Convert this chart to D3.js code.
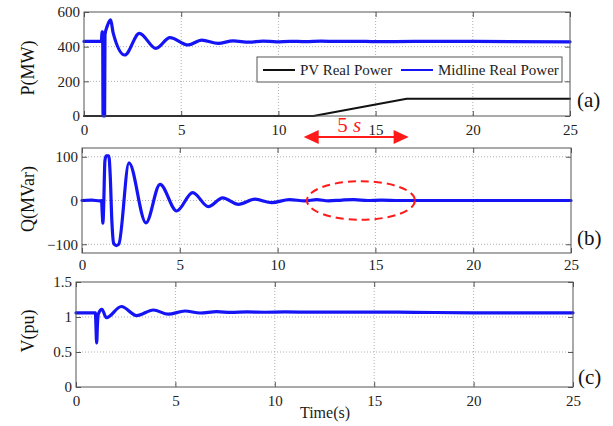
<!DOCTYPE html>
<html>
<head>
<meta charset="utf-8">
<script src="https://cdn.jsdelivr.net/npm/d3@7/dist/d3.min.js"></script>
<style>
  html, body { margin: 0; padding: 0; background: #fff; }
  svg, svg text { font-family: "Liberation Serif", "Times New Roman", serif !important; }
</style>
</head>
<body>
<svg id="chart" width="613" height="426"></svg>
<script>
// Time axis ticks shared by all three panels
const timeTicks = [0, 5, 10, 15, 20, 25];

// (a) real power, MW
const pTicks = [0, 200, 400, 600];
const pvRealPower = [[0, 0], [11.8, 0], [16.6, 100], [25, 100]];
const midlineRealPower = [
  [0, 430], [0.9, 430], [0.92, 485], [0.96, 485], [0.98, 0], [1.06, 0], [1.08, 470],
  [1.2, 520], [1.37, 554], [1.5, 480], [2.1, 352], [2.85, 477], [3.7, 390], [4.42, 452],
  [5.36, 410], [6.05, 438], [6.9, 419], [7.67, 433], [8.5, 426], [9.2, 432], [9.9, 428],
  [10.6, 431], [11.4, 429], [12.2, 432], [13, 430], [14, 431], [15, 429], [17, 430],
  [20, 430], [25, 428]
];

// (b) reactive power, MVar
const qTicks = [-100, 0, 100];
const midlineReactivePower = [
  [0, 0], [0.5, 1], [0.9, -1], [1.0, 0], [1.03, -25], [1.07, -52], [1.11, -10], [1.17, 90],
  [1.23, 102], [1.37, 102], [1.44, 60], [1.53, -50], [1.62, -98], [1.75, -103], [1.88, -100],
  [2.4, 86], [3.27, -51], [3.99, 37], [4.84, -24], [5.66, 18], [6.46, -14], [7.19, 6],
  [8.0, -9], [8.84, 3], [9.7, -5], [10.6, 2], [11.4, -1], [12.0, 2], [12.6, -1], [13.3, 1],
  [13.9, 2], [14.6, 0], [15.3, 1], [16.2, 0], [17, 0], [25, 0]
];

// (c) voltage, pu
const vTicks = [0, 0.5, 1, 1.5];
const midlineVoltage = [
  [0, 1.06], [0.98, 1.06], [1.0, 0.9], [1.04, 0.63], [1.08, 0.9], [1.12, 1.04], [1.3, 1.11],
  [1.53, 0.99], [2.28, 1.15], [3.05, 1.02], [3.89, 1.10], [4.64, 1.04], [5.48, 1.086],
  [6.24, 1.057], [7.08, 1.076], [7.8, 1.066], [8.6, 1.072], [9.5, 1.068], [10.5, 1.072],
  [12, 1.07], [15, 1.071], [17, 1.067], [20, 1.06], [25, 1.06]
];

// Annotations
const rampWindow = [11.3, 16.7];
const rampLabel = "5";
const rampUnit = "s";
const oscWindow = { t: 14.26, q: 0, halfSpan: 2.76, halfHeight: 44 };

const svg = d3.select("#chart");
const SERIF = '"Liberation Serif", "Times New Roman", serif';
const BLUE = "#1414f5";
const RED = "#ff1a1a";

const panels = [
  { key: "a", label: "P(MW)", tag: "(a)", left: 84, right: 570, top: 12, bottom: 116,
    domain: [0, 600], ticks: pTicks, fmt: d3.format("d"), labelY: 68, tagX: 577, tagY: 107, xPad: 8,
    series: [{ data: pvRealPower, color: "#111", width: 2, curve: d3.curveLinear },
             { data: midlineRealPower, color: BLUE, width: 3.2, curve: d3.curveMonotoneX }] },
  { key: "b", label: "Q(MVar)", tag: "(b)", left: 82, right: 571, top: 148, bottom: 253,
    domain: [-120, 120], ticks: qTicks, fmt: d3.format("d"), labelY: 199, tagX: 577, tagY: 245, xPad: 6,
    series: [{ data: midlineReactivePower, color: BLUE, width: 3.2, curve: d3.curveMonotoneX }] },
  { key: "c", label: "V(pu)", tag: "(c)", left: 76, right: 573, top: 282, bottom: 387,
    domain: [0, 1.5], ticks: vTicks, fmt: d => String(d), labelY: 331, tagX: 578, tagY: 384, xPad: 8,
    series: [{ data: midlineVoltage, color: BLUE, width: 3.2, curve: d3.curveMonotoneX }] }
];

panels.forEach(p => {
  p.x = d3.scaleLinear().domain([0, 25]).range([p.left, p.right]);
  p.y = d3.scaleLinear().domain(p.domain).range([p.bottom, p.top]);
  const g = svg.append("g").attr("class", "panel-" + p.key);

  // dotted grid
  g.append("g").selectAll("line").data(timeTicks.slice(1, -1)).join("line")
    .attr("x1", d => p.x(d)).attr("x2", d => p.x(d))
    .attr("y1", p.top).attr("y2", p.bottom)
    .attr("stroke", "#b0b0b0").attr("stroke-width", 1).attr("stroke-dasharray", "1,2");
  g.append("g").selectAll("line").data(p.ticks.filter(d => d > p.domain[0] && d < p.domain[1])).join("line")
    .attr("x1", p.left).attr("x2", p.right)
    .attr("y1", d => p.y(d)).attr("y2", d => p.y(d))
    .attr("stroke", "#b0b0b0").attr("stroke-width", 1).attr("stroke-dasharray", "1,2");

  // axes with inward ticks on all four sides
  const axB = g.append("g").attr("transform", `translate(0,${p.bottom})`)
    .call(d3.axisBottom(p.x).tickValues(timeTicks).tickSizeInner(-5).tickSizeOuter(0).tickPadding(p.xPad));
  const axT = g.append("g").attr("transform", `translate(0,${p.top})`)
    .call(d3.axisTop(p.x).tickValues(timeTicks).tickSizeInner(-5).tickSizeOuter(0).tickFormat(""));
  const axL = g.append("g").attr("transform", `translate(${p.left},0)`)
    .call(d3.axisLeft(p.y).tickValues(p.ticks).tickSizeInner(-5).tickSizeOuter(0).tickPadding(4).tickFormat(p.fmt));
  const axR = g.append("g").attr("transform", `translate(${p.right},0)`)
    .call(d3.axisRight(p.y).tickValues(p.ticks).tickSizeInner(-5).tickSizeOuter(0).tickFormat(""));
  [axB, axT, axL, axR].forEach(a => {
    a.attr("font-family", null).attr("font-size", null);
    a.select(".domain").remove();
    a.selectAll(".tick line").attr("stroke", "#555");
    a.selectAll("text").style("font-family", SERIF).style("font-size", "15px").attr("fill", "#222");
  });

  // traces
  p.series.forEach(s => {
    const line = d3.line().x(d => p.x(d[0])).y(d => p.y(d[1])).curve(s.curve);
    g.append("path").attr("d", line(s.data))
      .attr("fill", "none").attr("stroke", s.color).attr("stroke-width", s.width)
      .attr("stroke-linejoin", "round").attr("stroke-linecap", "round");
  });

  // frame
  g.append("rect").attr("x", p.left).attr("y", p.top)
    .attr("width", p.right - p.left).attr("height", p.bottom - p.top)
    .attr("fill", "none").attr("stroke", "#555").attr("stroke-width", 1);

  // y label and panel tag
  g.append("text").attr("transform", `translate(28,${p.labelY}) rotate(-90)`)
    .attr("text-anchor", "middle").attr("dominant-baseline", "central")
    .style("font-family", SERIF).style("font-size", "18px").attr("fill", "#111").text(p.label);
  g.append("text").attr("x", p.tagX).attr("y", p.tagY)
    .style("font-family", SERIF).style("font-size", "21px").attr("fill", "#111").text(p.tag);
});

// legend in panel (a)
const leg = svg.append("g");
leg.append("rect").attr("x", 257).attr("y", 57).attr("width", 305).attr("height", 25)
  .attr("fill", "#fff").attr("stroke", "#555").attr("stroke-width", 1);
const legendItems = [
  { name: "PV Real Power", color: "#111", x: 263 },
  { name: "Midline Real Power", color: BLUE, x: 401 }
];
legendItems.forEach(it => {
  leg.append("line").attr("x1", it.x).attr("x2", it.x + 32).attr("y1", 70).attr("y2", 70)
    .attr("stroke", it.color).attr("stroke-width", 2);
  leg.append("text").attr("x", it.x + 37).attr("y", 75)
    .style("font-family", SERIF).style("font-size", "15px")
    .attr("fill", "#222").text(it.name);
});

// ramp duration arrow between panels (a) and (b)
const pa = panels[0], pb = panels[1];
const ax1 = pa.x(rampWindow[0]), ax2 = pa.x(rampWindow[1]), ay = 137;
svg.append("line").attr("x1", ax1 + 12).attr("x2", ax2 - 12).attr("y1", ay).attr("y2", ay)
  .attr("stroke", RED).attr("stroke-width", 2);
svg.append("path").attr("d", `M${ax1},${ay} L${ax1 + 15},${ay - 7} L${ax1 + 15},${ay + 7} Z`).attr("fill", RED);
svg.append("path").attr("d", `M${ax2},${ay} L${ax2 - 15},${ay - 7} L${ax2 - 15},${ay + 7} Z`).attr("fill", RED);
const lbl = svg.append("text").attr("x", (ax1 + ax2) / 2 - 7).attr("y", 132)
  .attr("text-anchor", "middle").style("font-family", SERIF).style("font-size", "21px").attr("fill", RED);
lbl.append("tspan").text(rampLabel + " ");
lbl.append("tspan").style("font-style", "italic").text(rampUnit);

// dashed ellipse round the residual oscillation in (b)
svg.append("ellipse")
  .attr("cx", pb.x(oscWindow.t)).attr("cy", pb.y(oscWindow.q))
  .attr("rx", pb.x(oscWindow.t + oscWindow.halfSpan) - pb.x(oscWindow.t))
  .attr("ry", pb.y(0) - pb.y(oscWindow.halfHeight))
  .attr("fill", "none").attr("stroke", RED).attr("stroke-width", 2).attr("stroke-dasharray", "8,5");

// x axis title
svg.append("text").attr("x", 325).attr("y", 418).attr("text-anchor", "middle")
  .style("font-family", SERIF).style("font-size", "16px").attr("fill", "#222").text("Time(s)");
</script>
</body>
</html>
